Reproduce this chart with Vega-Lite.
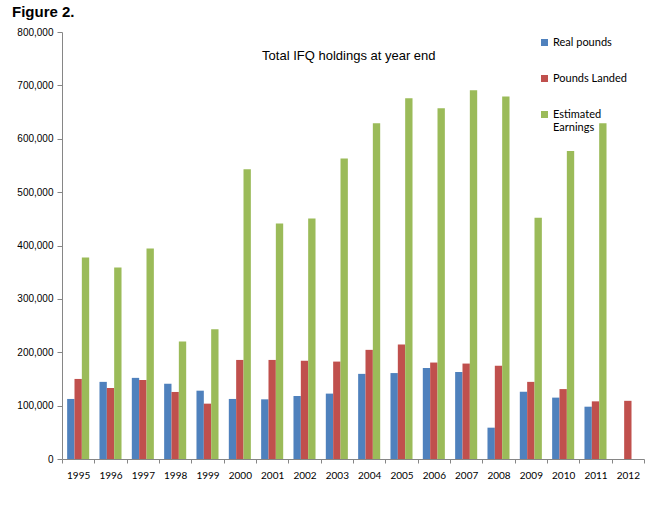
{
  "$schema": "https://vega.github.io/schema/vega-lite/v6.json",
  "width": 582,
  "height": 427,
  "autosize": {"type": "none"},
  "padding": {"left": 62, "top": 32, "right": 2, "bottom": 68},
  "background": "white",
  "title": {
    "text": "Figure 2.",
    "anchor": "start",
    "frame": "group",
    "dx": -50,
    "dy": 17,
    "offset": 12,
    "baseline": "alphabetic",
    "font": "Liberation Sans",
    "fontSize": 15,
    "fontWeight": "bold",
    "color": "black"
  },
  "datasets": {
    "bars": [
      {"year": "1995", "series": "Real  pounds", "value": 112500},
      {"year": "1995", "series": "Pounds Landed", "value": 150000},
      {"year": "1995", "series": "Estimated Earnings", "value": 377700},
      {"year": "1996", "series": "Real  pounds", "value": 144500},
      {"year": "1996", "series": "Pounds Landed", "value": 133000},
      {"year": "1996", "series": "Estimated Earnings", "value": 359000},
      {"year": "1997", "series": "Real  pounds", "value": 152000},
      {"year": "1997", "series": "Pounds Landed", "value": 148000},
      {"year": "1997", "series": "Estimated Earnings", "value": 394500},
      {"year": "1998", "series": "Real  pounds", "value": 141000},
      {"year": "1998", "series": "Pounds Landed", "value": 125600},
      {"year": "1998", "series": "Estimated Earnings", "value": 220000},
      {"year": "1999", "series": "Real  pounds", "value": 128000},
      {"year": "1999", "series": "Pounds Landed", "value": 103700},
      {"year": "1999", "series": "Estimated Earnings", "value": 243000},
      {"year": "2000", "series": "Real  pounds", "value": 112500},
      {"year": "2000", "series": "Pounds Landed", "value": 185600},
      {"year": "2000", "series": "Estimated Earnings", "value": 542700},
      {"year": "2001", "series": "Real  pounds", "value": 111800},
      {"year": "2001", "series": "Pounds Landed", "value": 185600},
      {"year": "2001", "series": "Estimated Earnings", "value": 441400},
      {"year": "2002", "series": "Real  pounds", "value": 118000},
      {"year": "2002", "series": "Pounds Landed", "value": 184000},
      {"year": "2002", "series": "Estimated Earnings", "value": 450800},
      {"year": "2003", "series": "Real  pounds", "value": 122500},
      {"year": "2003", "series": "Pounds Landed", "value": 182500},
      {"year": "2003", "series": "Estimated Earnings", "value": 562800},
      {"year": "2004", "series": "Real  pounds", "value": 159500},
      {"year": "2004", "series": "Pounds Landed", "value": 204500},
      {"year": "2004", "series": "Estimated Earnings", "value": 629000},
      {"year": "2005", "series": "Real  pounds", "value": 161000},
      {"year": "2005", "series": "Pounds Landed", "value": 214400},
      {"year": "2005", "series": "Estimated Earnings", "value": 676000},
      {"year": "2006", "series": "Real  pounds", "value": 170700},
      {"year": "2006", "series": "Pounds Landed", "value": 180700},
      {"year": "2006", "series": "Estimated Earnings", "value": 657000},
      {"year": "2007", "series": "Real  pounds", "value": 163000},
      {"year": "2007", "series": "Pounds Landed", "value": 178800},
      {"year": "2007", "series": "Estimated Earnings", "value": 691000},
      {"year": "2008", "series": "Real  pounds", "value": 58700},
      {"year": "2008", "series": "Pounds Landed", "value": 174500},
      {"year": "2008", "series": "Estimated Earnings", "value": 679000},
      {"year": "2009", "series": "Real  pounds", "value": 126000},
      {"year": "2009", "series": "Pounds Landed", "value": 144500},
      {"year": "2009", "series": "Estimated Earnings", "value": 452000},
      {"year": "2010", "series": "Real  pounds", "value": 115000},
      {"year": "2010", "series": "Pounds Landed", "value": 131000},
      {"year": "2010", "series": "Estimated Earnings", "value": 577000},
      {"year": "2011", "series": "Real  pounds", "value": 98000},
      {"year": "2011", "series": "Pounds Landed", "value": 108000},
      {"year": "2011", "series": "Estimated Earnings", "value": 629000},
      {"year": "2012", "series": "Pounds Landed", "value": 109000}
    ],
    "label": [
      {"year": "2003", "value": 748000, "text": "Total IFQ holdings at year end"}
    ]
  },
  "layer": [
    {
      "data": {"name": "bars"},
      "mark": {"type": "bar"},
      "encoding": {
        "x": {
          "field": "year",
          "type": "nominal",
          "scale": {"paddingInner": 0, "paddingOuter": 0},
          "axis": {
            "title": null,
            "labelAngle": 0,
            "tickBand": "extent",
            "domainColor": "#868686",
            "tickColor": "#868686",
            "tickSize": 4,
            "labelPadding": 7,
            "labelFont": "Lato",
            "labelFontSize": 10,
            "labelColor": "black",
            "labelBaseline": "top",
            "grid": false
          }
        },
        "xOffset": {
          "field": "series",
          "type": "nominal",
          "sort": ["Real  pounds", "Pounds Landed", "Estimated Earnings"],
          "scale": {"paddingInner": 0, "paddingOuter": 0.7}
        },
        "y": {
          "field": "value",
          "type": "quantitative",
          "scale": {"domain": [0, 800000], "nice": false},
          "axis": {
            "title": null,
            "values": [0, 100000, 200000, 300000, 400000, 500000, 600000, 700000, 800000],
            "format": ",.0f",
            "grid": false,
            "domainColor": "#868686",
            "tickColor": "#868686",
            "tickSize": 5,
            "labelPadding": 4,
            "labelFont": "Liberation Sans",
            "labelFontSize": 10,
            "labelColor": "black"
          }
        },
        "color": {
          "field": "series",
          "type": "nominal",
          "sort": ["Real  pounds", "Pounds Landed", "Estimated Earnings"],
          "scale": {
            "domain": ["Real  pounds", "Pounds Landed", "Estimated Earnings"],
            "range": ["#4F81BD", "#C0504D", "#9BBB59"]
          },
          "legend": {
            "title": null,
            "orient": "none",
            "legendX": 477,
            "legendY": 5,
            "padding": 0,
            "symbolType": "square",
            "symbolSize": 49,
            "symbolStrokeWidth": 0,
            "labelOffset": 3,
            "labelFont": "Lato",
            "labelFontSize": 11,
            "labelColor": "black",
            "rowPadding": 24,
            "labelExpr": "datum.label == 'Estimated Earnings' ? ['Estimated', 'Earnings'] : datum.label"
          }
        }
      }
    },
    {
      "data": {"name": "label"},
      "mark": {
        "type": "text",
        "font": "Liberation Sans",
        "fontSize": 13,
        "color": "black",
        "dx": 12,
        "baseline": "alphabetic",
        "align": "center"
      },
      "encoding": {
        "x": {"field": "year", "type": "nominal"},
        "y": {"field": "value", "type": "quantitative"},
        "text": {"field": "text"}
      }
    }
  ],
  "config": {
    "view": {"stroke": null}
  }
}
